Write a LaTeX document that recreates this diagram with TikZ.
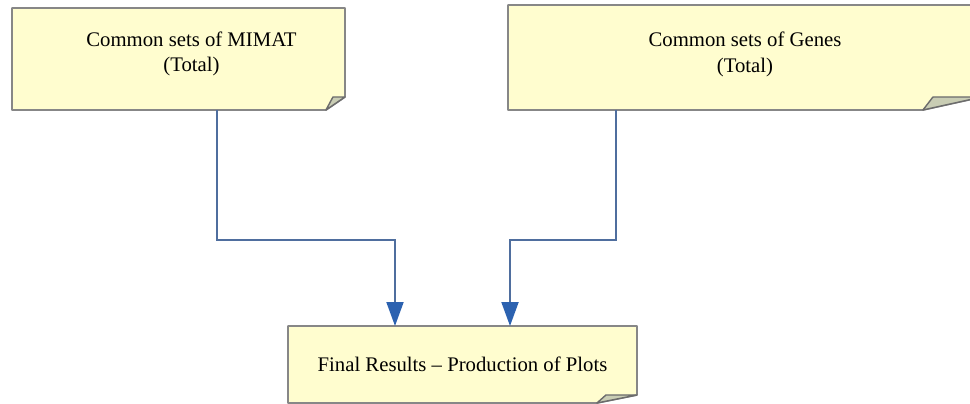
\documentclass[tikz,border=0pt]{standalone}
\usepackage{fontspec}
\setmainfont{Liberation Serif}
\usetikzlibrary{calc,backgrounds,arrows.meta}

\definecolor{notefill}{HTML}{FFFDCF}
\definecolor{noteline}{HTML}{878787}
\definecolor{foldfill}{HTML}{C9CDB4}
\definecolor{linkline}{HTML}{4F6E9E}
\definecolor{linktip}{HTML}{2C62B0}

\tikzset{
	note/.style={rectangle,inner sep=0pt,outer sep=0pt,align=center,
		font=\fontsize{11.8}{14.4}\selectfont},
	notetext/.style={align=center,inner sep=0pt,font=\fontsize{11.8}{14.4}\selectfont},
	noteedge/.style={draw=noteline,line width=1pt,fill=notefill,line join=round},
	fold/.style={draw=noteline!80!black,line width=0.8pt,fill=foldfill,line join=round},
	link/.style={draw=linkline,line width=1.1pt,
		-{Triangle[length=0.48cm,width=0.34cm,color=linktip,fill=linktip]}}
}

\begin{document}
\begin{tikzpicture}[x=0.02cm,y=-0.02cm]
	\useasboundingbox (0,0) rectangle (970,404);

	%boxes
	\node[note,minimum width=6.66cm,minimum height=2.04cm,
		label={[notetext,xshift=0.26cm,yshift=0.1cm]center:Common sets of MIMAT\\(Total)}]
		(mimat) at (178.5,59) {};
	\node[note,minimum width=9.48cm,minimum height=2.1cm,
		label={[notetext,yshift=0.06cm]center:Common sets of Genes\\(Total)}]
		(genes) at (745,57.5) {};
	\node[note,minimum width=6.98cm,minimum height=1.54cm] (plots) at (462.5,364.5)
		{Final Results -- Production of Plots};

	%paper with folded corner
	\begin{pgfonlayer}{background}
		\clip (0,0) rectangle (970,404);
		\foreach \n/\fw/\fh/\cx in {mimat/19/13/12, genes/59/13/49, plots/40/8/31}{
			\draw[noteedge] (\n.north west) -- (\n.north east)
				-- ($(\n.south east)+(0,-\fh)$) -- ($(\n.south east)+(-\fw,0)$)
				-- (\n.south west) -- cycle;
			\draw[fold] ($(\n.south east)+(-\fw,0)$) -- ($(\n.south east)+(-\cx,-\fh)$)
				-- ($(\n.south east)+(0,-\fh)$) -- cycle;
		}
	\end{pgfonlayer}

	%arrows
	\draw[link] (mimat.south) ++(38.5,0) -- ++(0,130) -| ($(plots.north)+(-67.5,0)$);
	\draw[link] (genes.south) ++(-129,0) -- ++(0,130) -| ($(plots.north)+(47.5,0)$);
\end{tikzpicture}
\end{document}
